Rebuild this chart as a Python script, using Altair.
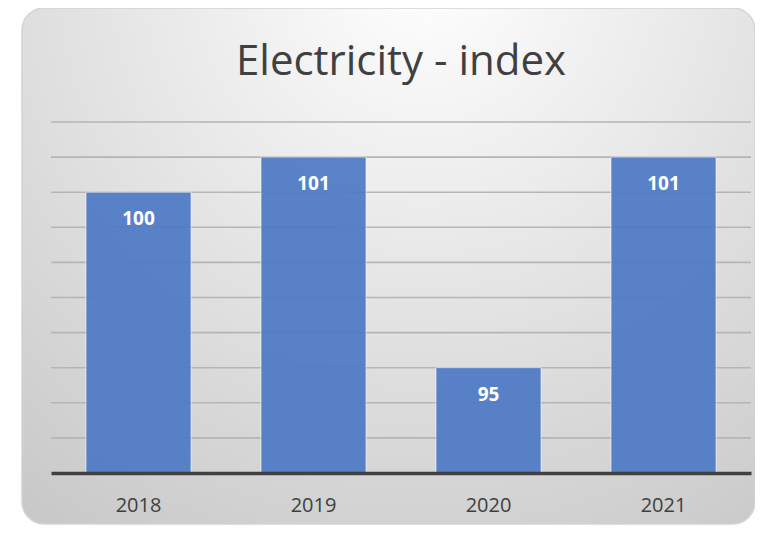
import altair as alt
import pandas as pd

title_text = "Electricity - index"
years = ["2018", "2019", "2020", "2021"]
values = [100, 101, 95, 101]
grid_values = [93, 94, 95, 96, 97, 98, 99, 100, 101, 102]
y_min, y_max = 92, 102

bars_df = pd.DataFrame({"year": years, "value": values})
grid_df = pd.DataFrame({"g": grid_values})

W, H = 700, 351
FONT = "Open Sans"

yscale = alt.Scale(domain=[y_min, y_max], nice=False, zero=False)
xscale = alt.Scale(paddingInner=0.4, paddingOuter=0.2)

gradient = alt.RadialGradient(
    gradient="radial",
    x1=0.55, y1=0.1, r1=0.0,
    x2=0.55, y2=0.1, r2=0.9,
    stops=[alt.GradientStop(offset=0, color="#ffffff"),
           alt.GradientStop(offset=1, color="#c9c9c9")],
)

card = alt.Chart(pd.DataFrame({"a": [0]})).mark_rect(
    fill=gradient, stroke="#d4d4d4", strokeWidth=1.5, cornerRadius=22
).encode(
    x=alt.value(-29), x2=alt.value(704), y=alt.value(-114), y2=alt.value(H + 51)
)

title = alt.Chart(pd.DataFrame({"t": [title_text]})).mark_text(
    font=FONT, fontSize=42, color="#404040", align="center", baseline="alphabetic"
).encode(
    x=alt.value(W / 2), y=alt.value(-47), text="t:N"
)

grid = alt.Chart(grid_df).mark_rule(color="#b5b5b5", strokeWidth=1.6).encode(
    y=alt.Y("g:Q", scale=yscale, axis=None)
)

bars = alt.Chart(bars_df).mark_bar(
    color="#4E7AC6", opacity=0.93, stroke="#ffffff", strokeOpacity=0.6, strokeWidth=1
).encode(
    x=alt.X("year:N", scale=xscale, sort=years,
            axis=alt.Axis(title=None, labelAngle=0, ticks=False, domainColor="#404040",
                          domainWidth=3.5, labelFont=FONT,
                          labelFontSize=20, labelColor="#404040", labelPadding=22, zindex=1)),
    y=alt.Y("value:Q", scale=yscale, axis=None),
    y2=alt.datum(y_min),
)

labels = alt.Chart(bars_df).mark_text(
    color="white", fontWeight="bold", fontSize=19, baseline="middle", dy=27, font=FONT
).encode(
    x=alt.X("year:N", scale=xscale, sort=years),
    y=alt.Y("value:Q", scale=yscale),
    text="value:Q",
)

chart = alt.layer(card, title, grid, bars, labels).properties(
    width=W, height=H,
    autosize=alt.AutoSizeParams(type="none"),
    padding={"left": 43, "top": 114, "right": 4, "bottom": 52},
).configure_view(stroke=None).configure(background="#ffffff")

chart.save("out.html", embed_options={"renderer": "svg", "actions": False})
